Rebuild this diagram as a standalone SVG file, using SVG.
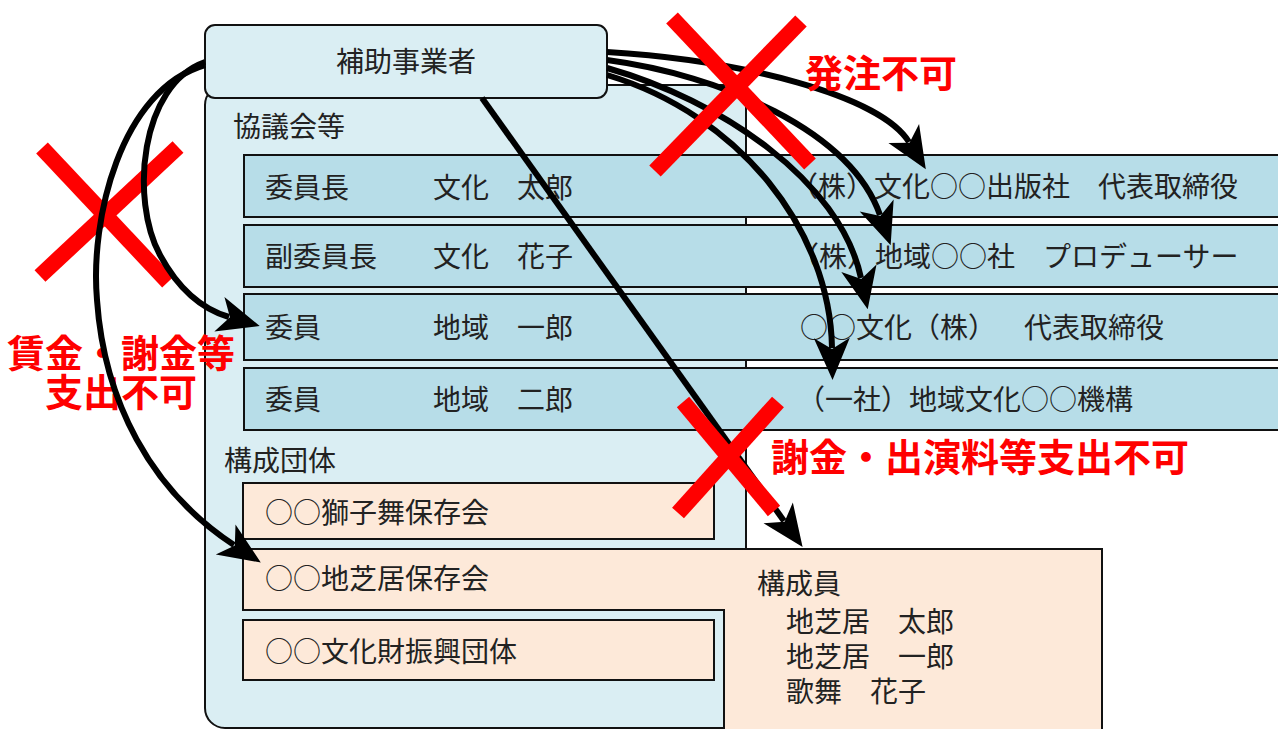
<svg xmlns="http://www.w3.org/2000/svg" width="1278" height="729" viewBox="0 0 1278 729">
  <style>
    .t { font-family: "Noto Sans CJK JP", "Noto Sans CJK SC", sans-serif; font-size: 28px; fill: #222; }
    .r { font-family: "Noto Sans CJK JP", "Noto Sans CJK SC", sans-serif; font-size: 38px; font-weight: bold; fill: #ff0000; }
    .box { stroke: #111; stroke-width: 2; }
    .blue { fill: #daeef3; }
    .row { fill: #b7dde8; }
    .peach { fill: #fde9d9; }
    .arr { fill: none; stroke: #000; stroke-width: 6; marker-end: url(#ah); }
    .x { stroke: #ff0000; stroke-width: 16; stroke-linecap: butt; fill: none; }
  </style>
  <defs>
    <marker id="ah" markerUnits="userSpaceOnUse" viewBox="0 -20 44 40" markerWidth="44" markerHeight="40" refX="10" refY="0" orient="auto" overflow="visible">
      <path d="M0,-18 L42,0 L0,18 L11,0 Z" fill="#000"/>
    </marker>
  </defs>
  <rect width="1278" height="729" fill="#fff"/>

  <g id="kyogikai">
    <rect class="box blue" x="205" y="85" width="541" height="643" rx="20"/>
    <text class="t" x="233" y="136.5">協議会等</text>
    <text class="t" x="224" y="470.5">構成団体</text>
  </g>

  <g id="hojo">
    <rect class="box blue" x="205" y="25" width="402" height="73" rx="10"/>
    <text class="t" x="406" y="72" text-anchor="middle">補助事業者</text>
  </g>

  <g id="row1">
    <rect class="box row" x="244" y="155" width="1050" height="62"/>
    <text class="t" x="265" y="198">委員長　　　文化　太郎</text>
    <text class="t" x="790" y="197">（株）文化○○出版社　代表取締役</text>
  </g>
  <g id="row2">
    <rect class="box row" x="244" y="225" width="1050" height="62"/>
    <text class="t" x="265" y="267">副委員長　　文化　花子</text>
    <text class="t" x="791" y="267">（株）地域○○社　プロデューサー</text>
  </g>
  <g id="row3">
    <rect class="box row" x="244" y="294" width="1050" height="66"/>
    <text class="t" x="265" y="338">委員　　　　地域　一郎</text>
    <text class="t" x="800" y="338">○○文化（株）</text>
    <text class="t" x="1024" y="338">代表取締役</text>
  </g>
  <g id="row4">
    <rect class="box row" x="244" y="368" width="1050" height="62"/>
    <text class="t" x="265" y="410">委員　　　　地域　二郎</text>
    <text class="t" x="797" y="410">（一社）地域文化○○機構</text>
  </g>

  <g id="shishimai">
    <rect class="box peach" x="243" y="483" width="471" height="56"/>
    <text class="t" x="265" y="522.5">○○獅子舞保存会</text>
  </g>
  <g id="jishibai">
    <path class="box peach" d="M243,549 L1102,549 L1102,740 L724,740 L724,610 L243,610 Z"/>
    <text class="t" x="265" y="589">○○地芝居保存会</text>
    <text class="t" x="757" y="593.5">構成員</text>
    <text class="t" x="786" y="631.5">地芝居　太郎</text>
    <text class="t" x="786" y="666.5">地芝居　一郎</text>
    <text class="t" x="786" y="702">歌舞　花子</text>
  </g>
  <g id="bunkazai">
    <rect class="box peach" x="243" y="620" width="471" height="60"/>
    <text class="t" x="265" y="662">○○文化財振興団体</text>
  </g>

  <g id="mark-left">
    <line class="x" x1="42" y1="148" x2="168" y2="282"/>
    <line class="x" x1="178" y1="147" x2="40" y2="276"/>
    <text class="r" x="121" y="367" text-anchor="middle">賃金・謝金等</text>
    <text class="r" x="121" y="406" text-anchor="middle">支出不可</text>
  </g>

  <g id="connectors">
    <path class="arr" d="M205,62 C140,85 130,200 160,255 C180,292 205,310 229,317"/>
    <path class="arr" d="M205,65 C120,90 90,220 97,300 C104,400 150,490 234,545"/>
    <path class="arr" d="M607,52 C740,60 880,95 909,142"/>
    <path class="arr" d="M607,60 C720,75 850,130 880,215"/>
    <path class="arr" d="M607,68 C720,100 840,180 861,278"/>
    <path class="arr" d="M607,75 C740,115 830,230 832,348"/>
    <path class="arr" d="M482,98 L784,521"/>
  </g>

  <g id="mark-top">
    <line class="x" x1="672" y1="18" x2="810" y2="164"/>
    <line class="x" x1="801" y1="21" x2="655" y2="171"/>
    <text class="r" x="805" y="87">発注不可</text>
  </g>
  <g id="mark-bottom">
    <line class="x" x1="683" y1="402" x2="774" y2="511"/>
    <line class="x" x1="778" y1="402" x2="678" y2="513"/>
    <text class="r" x="771" y="470.5">謝金・出演料等支出不可</text>
  </g>
</svg>
